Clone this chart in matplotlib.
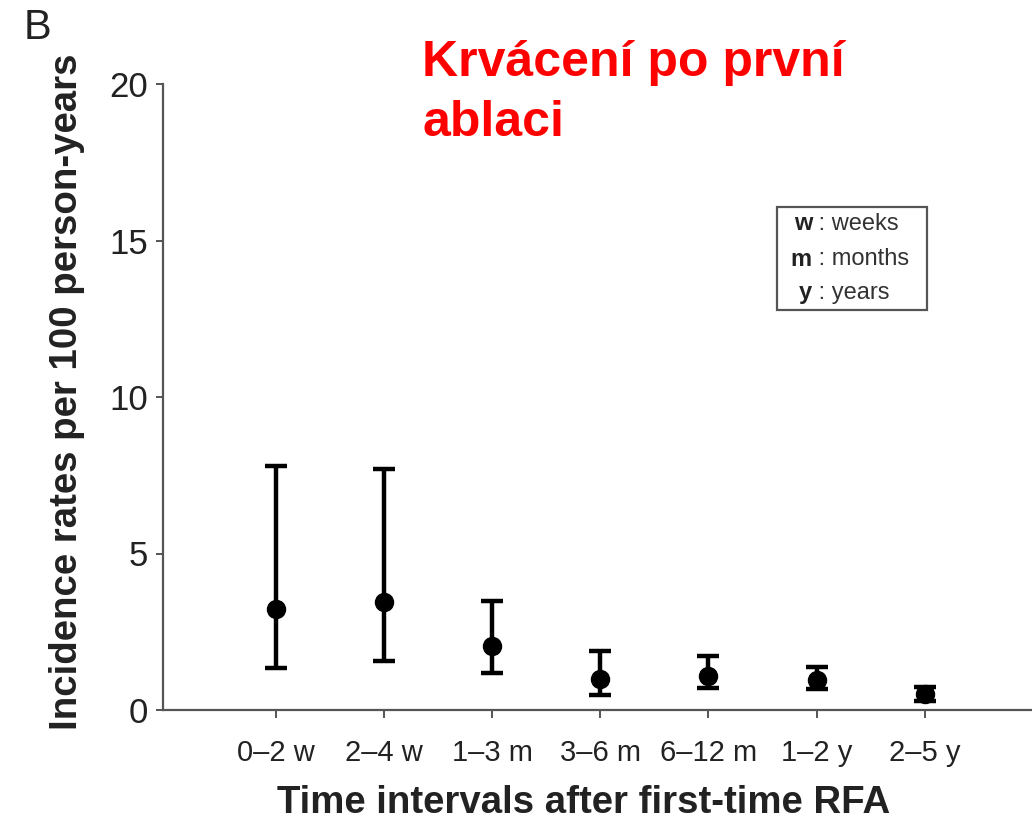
import matplotlib
matplotlib.use("Agg")
import matplotlib.pyplot as plt
from matplotlib.patches import Rectangle

plt.rcParams['font.family'] = ['Liberation Sans', 'DejaVu Sans']

# hodnoty
intervals = ["0–2 w", "2–4 w", "1–3 m", "3–6 m", "6–12 m", "1–2 y", "2–5 y"]
rate = [3.23, 3.45, 2.04, 0.98, 1.10, 0.95, 0.50]
ci_low = [1.34, 1.57, 1.18, 0.49, 0.71, 0.66, 0.30]
ci_high = [7.80, 7.70, 3.49, 1.87, 1.72, 1.36, 0.72]

W, H = 1032, 823
fig = plt.figure(figsize=(W / 100, H / 100), dpi=100)
ax = fig.add_axes([163 / W, 1 - 710 / H, 1 - 163 / W, (710 - 84) / H])

x = list(range(len(intervals)))
yerr = [[r - lo for r, lo in zip(rate, ci_low)],
        [hi - r for r, hi in zip(rate, ci_high)]]
ax.errorbar(x, rate, yerr=yerr, fmt='o', color='black', ms=13,
            elinewidth=3.2, capsize=8, capthick=3.2)

ax.set_xlim(-1.04, 6.99)
ax.set_ylim(0, 20)
ax.set_yticks([0, 5, 10, 15, 20])
ax.set_xticks(x)
ax.set_xticklabels(intervals)

for s in ['top', 'right']:
    ax.spines[s].set_visible(False)
for s in ['left', 'bottom']:
    ax.spines[s].set_color('#555555')
    ax.spines[s].set_linewidth(1.6)
ax.tick_params(axis='y', length=5, width=1.4, color='#555555',
               labelsize=25, labelcolor='#222222', pad=6)
ax.tick_params(axis='x', length=6, width=1.4, color='#555555',
               labelsize=21, labelcolor='#222222', pad=15)

fig.text(67 / W, 1 - 392 / H, "Incidence rates per 100 person-years",
         rotation=90, ha='center', va='center', fontsize=27.6,
         fontweight='bold', color='#222222')
fig.text(584 / W, 1 - 803 / H, "Time intervals after first-time RFA",
         ha='center', va='center', fontsize=27.6, fontweight='bold',
         color='#222222')
fig.text(24 / W, 1 - 28 / H, "B", ha='left', va='center', fontsize=30,
         color='#222222')
fig.text(422 / W, 1 - 93 / H, "Krvácení po první\nablaci", ha='left',
         va='center', fontsize=36, fontweight='bold', color='#ff0000',
         linespacing=1.38)

# legenda se zkratkami
fig.patches.append(Rectangle((777 / W, 1 - 310 / H), 150 / W, 103 / H,
                             transform=fig.transFigure, fill=False,
                             edgecolor='#555555', lw=1.6))
legend_rows = [("w", "weeks", 224), ("m", "months", 259), ("y", "years", 293)]
for letter, word, py in legend_rows:
    fig.text(812 / W, 1 - py / H, letter, ha='right', va='center',
             fontsize=17, fontweight='bold', color='#222222')
    fig.text(812 / W, 1 - py / H, " : " + word, ha='left', va='center',
             fontsize=17, color='#333333')

fig.savefig("out.png", dpi=100)
